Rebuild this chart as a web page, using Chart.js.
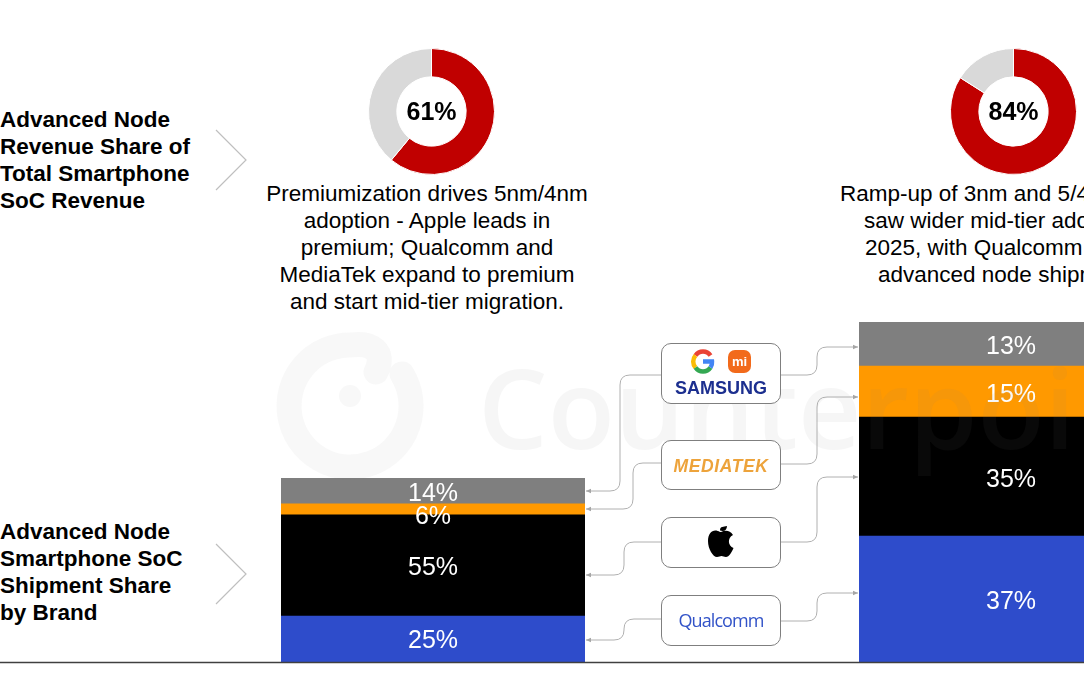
<!DOCTYPE html>
<html>
<head>
<meta charset="utf-8">
<title>Advanced node smartphone SoC share</title>
<script src="https://cdn.jsdelivr.net/npm/chart.js@4/dist/chart.umd.min.js"></script>
<style>
html, body { margin: 0; padding: 0; background: #fff; }
body { position: relative; width: 1084px; height: 678px; overflow: hidden; font-family: "Liberation Sans", Arial, sans-serif; color: #000; }
.abs { position: absolute; }
.rowtitle { left: 0; font-weight: bold; font-size: 22.5px; line-height: 27px; white-space: nowrap; }
.note { font-size: 22.5px; line-height: 27px; white-space: nowrap; }
.box { left: 661px; width: 118px; background: #fff; border: 1px solid #7f7f7f; border-radius: 10px; }
.mark { white-space: nowrap; text-align: center; }
#watermark { left: 478px; top: 342px; font-family: "Open Sans", sans-serif; font-size: 110px; line-height: 128px; font-weight: 600; color: rgba(128,128,128,0.07); white-space: nowrap; }
canvas { display: block; }
</style>
</head>
<body>

<div class="abs rowtitle" style="top:106px">Advanced Node<br>Revenue Share of<br>Total Smartphone<br>SoC Revenue</div>
<div class="abs rowtitle" style="top:518px">Advanced Node<br>Smartphone SoC<br>Shipment Share<br>by Brand</div>

<div class="abs" style="left:368px;top:48px;width:127px;height:127px"><canvas id="donut_left"></canvas></div>
<div class="abs" style="left:950px;top:48px;width:127px;height:127px"><canvas id="donut_right"></canvas></div>

<div class="abs note" style="left:227px;width:400px;top:180px;text-align:center">Premiumization drives 5nm/4nm<br>adoption - Apple leads in<br>premium; Qualcomm and<br>MediaTek expand to premium<br>and start mid-tier migration.</div>
<div class="abs note" style="left:840px;top:180px">Ramp-up of 3nm and 5/4nm</div>
<div class="abs note" style="left:864px;top:207px">saw wider mid-tier adoption</div>
<div class="abs note" style="left:865px;top:234px">2025, with Qualcomm</div>
<div class="abs note" style="left:878px;top:261px">advanced node shipments</div>

<div class="abs" style="left:281px;top:478px;width:304px;height:184px"><canvas id="bar_left"></canvas></div>
<div class="abs" style="left:859px;top:322px;width:304px;height:340px"><canvas id="bar_right"></canvas></div>

<!-- faint brand mark sits over the bars -->
<div id="watermark" class="abs">Counterpoint</div>
<svg class="abs" style="left:0;top:0" width="1084" height="678">
  <g fill="none" stroke="rgb(128,128,128)" stroke-opacity="0.06" stroke-width="25" stroke-linecap="round">
    <path d="M402 374 A61 61 0 1 1 351 345 C 372 342 386 352 376 372"/>
  </g>
  <circle cx="350" cy="396" r="11" fill="rgb(128,128,128)" fill-opacity="0.06"/>
</svg>

<svg class="abs" style="left:0;top:0" width="1084" height="678">
  <defs>
    <marker id="tip" markerWidth="6" markerHeight="6" refX="5" refY="3" orient="auto">
      <path d="M0 0.8 L5 3 L0 5.2 Z" fill="#a6a6a6"/>
    </marker>
  </defs>
  <!-- row chevrons -->
  <g fill="none" stroke="#bfbfbf" stroke-width="1.2">
    <polyline points="216,130 246,160 216,190"/>
    <polyline points="216,544 246,574 216,604"/>
  </g>
  <!-- base line -->
  <line x1="0" y1="662.5" x2="1084" y2="662.5" stroke="#404040" stroke-width="1.5"/>
  <!-- connectors -->
  <g fill="none" stroke="#b0b0b0" stroke-width="1">
    <path marker-end="url(#tip)" d="M661 375 H630 Q620 375 620 385 V481 Q620 491 610 491 H586"/>
    <path marker-end="url(#tip)" d="M661 463 H643 Q633 463 633 473 V499 Q633 509 623 509 H586"/>
    <path marker-end="url(#tip)" d="M661 542 H634 Q624 542 624 552 V565 Q624 575 614 575 H586"/>
    <path marker-end="url(#tip)" d="M661 619 H634 Q624 619 624 629 V630 Q624 640 614 640 H586"/>
    <path marker-end="url(#tip)" d="M781 375 H807 Q817 375 817 365 V357 Q817 347 827 347 H858"/>
    <path marker-end="url(#tip)" d="M781 464 H807 Q817 464 817 454 V407 Q817 397 827 397 H858"/>
    <path marker-end="url(#tip)" d="M781 542 H807 Q817 542 817 532 V487 Q817 477 827 477 H858"/>
    <path marker-end="url(#tip)" d="M781 621 H807 Q817 621 817 611 V603 Q817 593 827 593 H858"/>
  </g>
</svg>

<div class="abs box" style="top:343px;height:59px"></div>
<div class="abs box" style="top:440px;height:48px"></div>
<div class="abs box" style="top:517px;height:49px"></div>
<div class="abs box" style="top:595px;height:49px"></div>

<svg class="abs" style="left:0;top:0" width="1084" height="678">
  <!-- google G -->
  <g fill="none" stroke-width="4.5">
    <path d="M710.5 355.5 A9 9 0 0 0 695.5 355.5" stroke="#ea4335"/>
    <path d="M695.5 355.5 A9 9 0 0 0 695.5 367.5" stroke="#fbbc05"/>
    <path d="M695.5 367.5 A9 9 0 0 0 710.5 367.5" stroke="#34a853"/>
    <path d="M710.5 367.5 A9 9 0 0 0 712 361.5 H703" stroke="#4285f4"/>
  </g>
  <!-- xiaomi tile -->
  <rect x="728" y="350" width="23" height="23" rx="7" fill="#f26a1b"/>
  <!-- apple -->
  <path d="M720 532 C714 528 708 532 708 541 C708 549 713 557 717 557 C719 557 720 556 721.500 556 C723 556 724 557 726 557 C729 557 732 552 733.500 548 C728 546 727 538 733 535 C730 530 725 530 721 532 Z M720 530.500 C720 526 723.500 527 727 526 C727 530 724 532 720 530.500 Z" fill="#000"/>
</svg>
<div class="abs mark" style="left:728px;top:353px;width:23px;font-size:13px;line-height:17px;font-weight:bold;color:#fff">mi</div>
<div class="abs mark" style="left:661px;top:378px;width:120px;font-size:18px;line-height:21px;font-weight:bold;color:#1c2f8f">SAMSUNG</div>
<div class="abs mark" style="left:661px;top:456px;width:120px;font-size:17.5px;line-height:20px;font-weight:bold;font-style:italic;letter-spacing:.6px;color:#eda33b">MEDIATEK</div>
<div class="abs mark" style="left:661px;top:609px;width:120px;font-family:'Open Sans',sans-serif;font-size:18px;line-height:22px;letter-spacing:-.9px;color:#3253c8">Qualcomm</div>

<script>
// share of advanced node revenue (doughnuts)
var revenue_labels = ['Advanced node', 'Other'];
var revenue_left = [61, 39];
var revenue_right = [84, 16];

// shipment share by brand (stacked bars), bottom to top
var brands = ['Qualcomm', 'Apple', 'MediaTek', 'Google, Xiaomi, Samsung'];
var brand_colors = ['#2e4ccb', '#000000', '#ff9900', '#7f7f7f'];
var shipment_left = [25, 55, 6, 14];
var shipment_right = [37, 35, 15, 13];

var font_name = '"Liberation Sans", Arial, sans-serif';

// percentage in the hole of the doughnut
var centerText = {
    id: 'centerText',
    afterDraw: function (chart) {
        var arc = chart.getDatasetMeta(0).data[0];
        var c = chart.ctx;
        c.save();
        c.font = 'bold 25px ' + font_name;
        c.fillStyle = '#000';
        c.textAlign = 'center';
        c.textBaseline = 'middle';
        c.fillText(chart.data.datasets[0].data[0] + '%', arc.x, arc.y + 2);
        c.restore();
    }
};

// white percentage in each bar segment
var segmentText = {
    id: 'segmentText',
    afterDraw: function (chart) {
        var c = chart.ctx;
        c.save();
        c.font = '25px ' + font_name;
        c.fillStyle = '#fff';
        c.textAlign = 'center';
        c.textBaseline = 'middle';
        chart.data.datasets.forEach(function (ds, i) {
            var bar = chart.getDatasetMeta(i).data[0];
            var nudge = chart.options.labelNudge[i];
            c.fillText(ds.data[0] + '%', bar.x, (bar.y + bar.base) / 2 + nudge);
        });
        c.restore();
    }
};

function makeDonut(id, values) {
    return new Chart(document.getElementById(id).getContext('2d'), {
        type: 'doughnut',
        data: {
            labels: revenue_labels,
            datasets: [{
                data: values,
                backgroundColor: ['#c00000', '#d9d9d9'],
                borderColor: '#ffffff',
                borderWidth: 1
            }]
        },
        options: {
            responsive: true,
            maintainAspectRatio: false,
            animation: false,
            cutout: '55%',
            plugins: { legend: { display: false }, tooltip: { enabled: false } }
        },
        plugins: [centerText]
    });
}

function makeBar(id, values, nudge) {
    return new Chart(document.getElementById(id).getContext('2d'), {
        type: 'bar',
        data: {
            labels: ['Share'],
            datasets: brands.map(function (name, i) {
                return {
                    label: name,
                    data: [values[i]],
                    backgroundColor: brand_colors[i],
                    barPercentage: 1,
                    categoryPercentage: 1
                };
            })
        },
        options: {
            responsive: true,
            maintainAspectRatio: false,
            animation: false,
            labelNudge: nudge,
            layout: { padding: 0 },
            scales: {
                x: { display: false, stacked: true },
                y: { display: false, stacked: true, min: 0, max: 100 }
            },
            plugins: { legend: { display: false }, tooltip: { enabled: false } }
        },
        plugins: [segmentText]
    });
}

makeDonut('donut_left', revenue_left);
makeDonut('donut_right', revenue_right);
makeBar('bar_left', shipment_left, [2.5, 2.5, 8, 3]);
makeBar('bar_right', shipment_right, [3, 3, 3, 3]);
</script>
</body>
</html>
